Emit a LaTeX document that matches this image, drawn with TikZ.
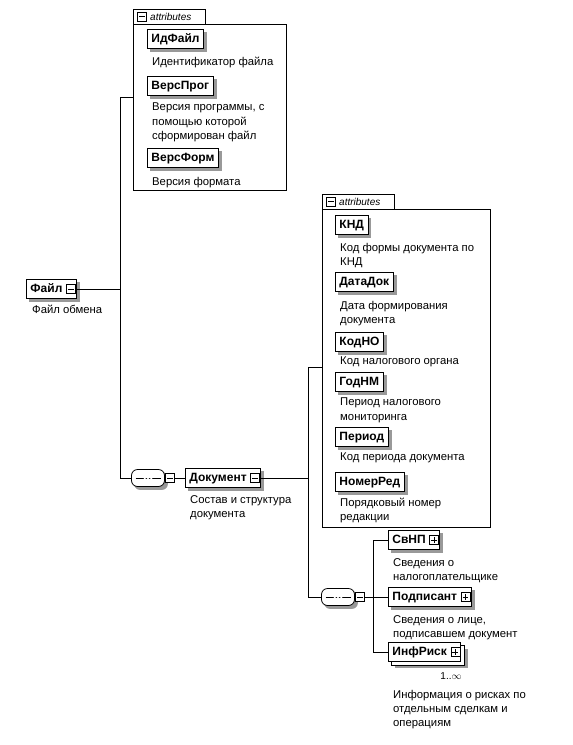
\documentclass[tikz,border=0pt]{standalone}
\usepackage{fontspec}
\setmainfont{Liberation Sans}
\usetikzlibrary{positioning, backgrounds}

\tikzset{
  elbox/.style={draw, line width=0.9pt, fill=white, font=\fontsize{12}{14}\selectfont\bfseries,
    inner xsep=4pt, inner ysep=0pt, text height=8.6pt, text depth=1.2pt, minimum height=19pt, anchor=west},
  shadowfill/.style={fill=black!40},
  desc/.style={font=\fontsize{11.3}{14.2}\selectfont, align=left, anchor=north west, inner sep=0pt},
  tree/.style={line width=0.8pt},
  frame/.style={draw, line width=0.7pt},
  pmbox/.style={draw, line width=0.6pt, fill=white, minimum size=9pt, inner sep=0pt},
  minusicon/.style={pmbox, path picture={
    \draw[line width=0.6pt] ([xshift=1.6pt]path picture bounding box.west) -- ([xshift=-1.6pt]path picture bounding box.east);}},
  plusicon/.style={pmbox, path picture={
    \draw[line width=0.6pt] ([xshift=1.6pt]path picture bounding box.west) -- ([xshift=-1.6pt]path picture bounding box.east);
    \draw[line width=0.6pt] ([yshift=-1.6pt]path picture bounding box.north) -- ([yshift=1.6pt]path picture bounding box.south);}},
  compo/.style={draw, line width=0.8pt, fill=white, rounded corners=6pt, minimum width=33pt,
    minimum height=17pt, inner sep=0pt, path picture={
    \draw[line width=0.9pt] ([xshift=4pt]path picture bounding box.west) -- ([xshift=-4pt]path picture bounding box.east);
    \foreach \d in {-3.2,0,3.2} \fill ([xshift=\d pt]path picture bounding box.center) circle (1.3pt);}},
  attrtab/.style={font=\fontsize{10}{11}\selectfont\itshape, anchor=west, inner sep=0pt},
}

\begin{document}
\begin{tikzpicture}[x=1pt,y=-1pt]
\useasboundingbox (0,0) rectangle (573,745);

% attributes of Файл
\draw[frame] (133,24) -- (133,9) -- (205,9) -- (205,24);
\draw[frame] (133,24) rectangle (286,190);
\node[minusicon] (atab1) at (142,16.5) {};
\node[attrtab] (atxt1) at (150,16.5) {attributes};

\node[elbox] (idfile) at (147,39) {ИдФайл};
\node[desc] (didfile) at (152,57) {Идентификатор файла};
\node[elbox] (versprog) at (147,86) {ВерсПрог};
\node[desc] (dversprog) at (152,103) {Версия программы, с\\помощью которой\\сформирован файл};
\node[elbox] (versform) at (147,158) {ВерсФорм};
\node[desc] (dversform) at (152,177) {Версия формата};

% root
\node[elbox] (file) at (26,289) {Файл\kern10pt};
\node[minusicon] (ifile) at ([xshift=-6pt]file.east) {};
\node[desc] (dfile) at (32,305) {Файл обмена};

\node[compo] (seq1) at (148,478) {};
\node[minusicon] (iseq1) at ([xshift=5pt]seq1.east) {};

\coordinate (bus1top) at (120,97);
\coordinate (bus1mid) at (120,289);
\coordinate (bus1bot) at (120,478);
\draw[tree] (ifile.east) -- (bus1mid);
\draw[tree] (133,97) -- (bus1top) -- (bus1bot) -- (seq1.west);

% Документ
\node[elbox] (doc) at (185,478) {Документ\kern10pt};
\node[minusicon] (idoc) at ([xshift=-6pt]doc.east) {};
\node[desc] (ddoc) at (190,495) {Состав и структура\\документа};
\draw[tree] (iseq1.east) -- (doc.west);

% attributes of Документ
\draw[frame] (322,209) -- (322,194) -- (394,194) -- (394,209);
\draw[frame] (322,209) rectangle (490,527);
\node[minusicon] (atab2) at (331,201.5) {};
\node[attrtab] (atxt2) at (339,201.5) {attributes};

\node[elbox] (knd) at (335,225) {КНД};
\node[desc] (dknd) at (340,243) {Код формы документа по\\КНД};
\node[elbox] (datadok) at (335,282) {ДатаДок};
\node[desc] (ddatadok) at (340,301) {Дата формирования\\документа};
\node[elbox] (kodno) at (335,342) {КодНО};
\node[desc] (dkodno) at (340,357) {Код налогового органа};
\node[elbox] (godnm) at (335,382) {ГодНМ};
\node[desc] (dgodnm) at (340,398) {Период налогового\\мониторинга};
\node[elbox] (period) at (335,437) {Период};
\node[desc] (dperiod) at (340,453) {Код периода документа};
\node[elbox] (nomerred) at (335,482) {НомерРед};
\node[desc] (dnomerred) at (340,498) {Порядковый номер\\редакции};

\node[compo] (seq2) at (338,597) {};
\node[minusicon] (iseq2) at ([xshift=5pt]seq2.east) {};

\coordinate (bus2top) at (308,367);
\coordinate (bus2mid) at (308,478);
\coordinate (bus2bot) at (308,597);
\draw[tree] (idoc.east) -- (bus2mid);
\draw[tree] (322,367) -- (bus2top) -- (bus2bot) -- (seq2.west);

% children of the sequence
\node[elbox] (svnp) at (388,540) {СвНП\kern10pt};
\node[plusicon] (isvnp) at ([xshift=-6pt]svnp.east) {};
\node[desc] (dsvnp) at (393,558) {Сведения о\\налогоплательщике};
\node[elbox] (podp) at (388,597) {Подписант\kern10pt};
\node[plusicon] (ipodp) at ([xshift=-6pt]podp.east) {};
\node[desc] (dpodp) at (393,615) {Сведения о лице,\\подписавшем документ};
\node[elbox] (infrisk) at (388,652) {ИнфРиск\kern10pt};
\node[plusicon] (iinfrisk) at ([xshift=-6pt]infrisk.east) {};
\node[font=\fontsize{10}{11}\selectfont, inner sep=0pt] (minfrisk) at (451,676) {1..$\infty$};
\node[desc] (dinfrisk) at (393,690) {Информация о рисках по\\отдельным сделкам и\\операциям};

\coordinate (bus3top) at (373,540);
\coordinate (bus3mid) at (373,597);
\coordinate (bus3bot) at (373,652);
\draw[tree] (iseq2.east) -- (bus3mid);
\draw[tree] (svnp.west) -- (bus3top) -- (bus3bot) -- (infrisk.west);
\draw[tree] (bus3mid) -- (podp.west);

% shadows
\begin{pgfonlayer}{background}
\foreach \n in {idfile,versprog,versform,file,doc,knd,datadok,kodno,godnm,period,nomerred,svnp,podp}
  \fill[shadowfill] ([shift={(3pt,-3pt)}]\n.south west) rectangle ([shift={(3pt,-3pt)}]\n.north east);
\foreach \n in {seq1,seq2}
  \fill[shadowfill,rounded corners=6pt] ([shift={(3pt,-3pt)}]\n.south west) rectangle ([shift={(3pt,-3pt)}]\n.north east);
\fill[shadowfill] ([shift={(6.5pt,-6.5pt)}]infrisk.south west) rectangle ([shift={(6.5pt,-6.5pt)}]infrisk.north east);
\draw[fill=white,line width=0.7pt] ([shift={(3.5pt,-3.5pt)}]infrisk.south west) rectangle ([shift={(3.5pt,-3.5pt)}]infrisk.north east);
\end{pgfonlayer}

\end{tikzpicture}
\end{document}
